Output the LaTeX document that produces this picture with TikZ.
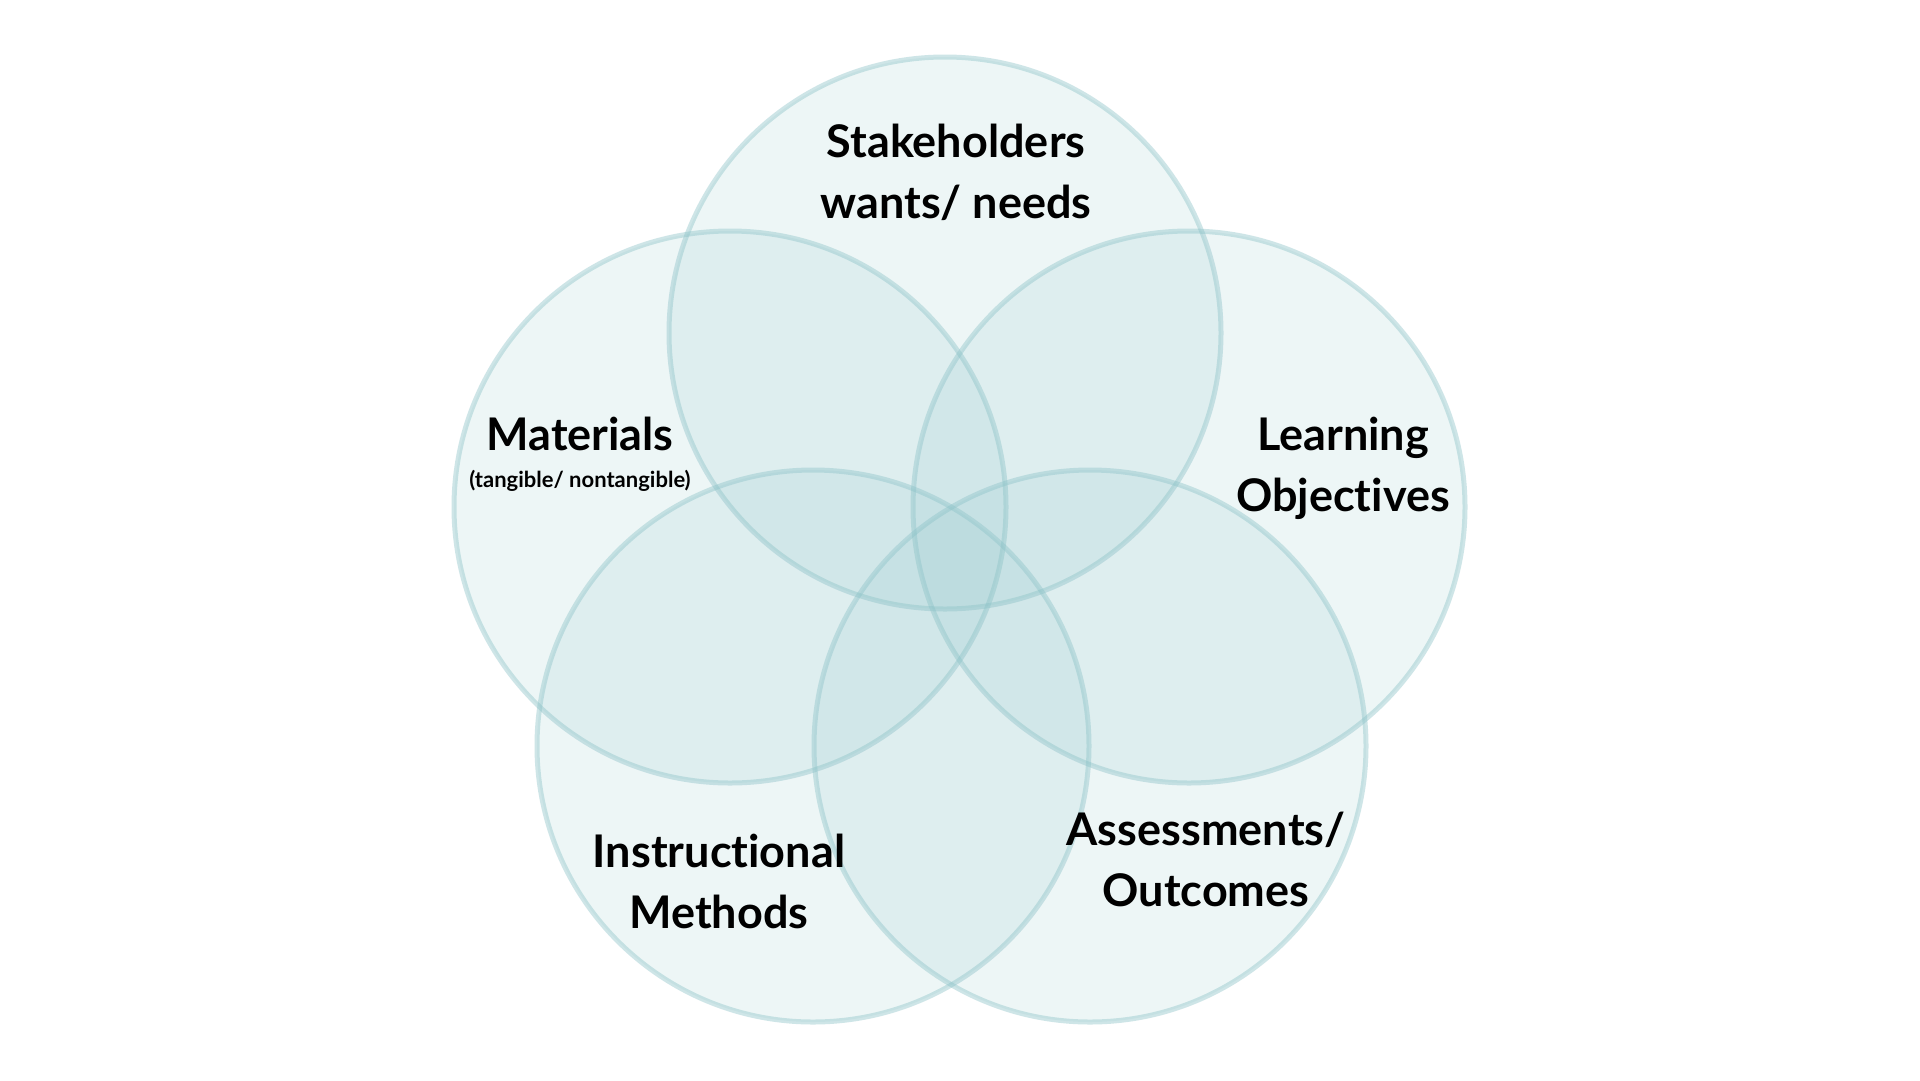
\documentclass[tikz,border=0pt]{standalone}
\usepackage{fontspec}
\setmainfont{Lato}[Ligatures=NoCommon]
\begin{document}
\begin{tikzpicture}[x=1pt,y=-1pt]
\definecolor{venncol}{RGB}{140,195,200}
\tikzset{
  venn/.style={circle, minimum size=552pt, inner sep=0pt, fill=venncol, fill opacity=0.15,
    draw=venncol, draw opacity=0.42, line width=5pt},
  lbl/.style={align=center, anchor=base, font=\bfseries\fontsize{45}{61}\selectfont, text=black},
  sublbl/.style={align=center, anchor=base, font=\bfseries\fontsize{22}{26}\selectfont, text=black}
}
\useasboundingbox[fill=white] (0,0) rectangle (1920,1080);
\node[venn] (stake) at (945,333) {};
\node[venn] (mat) at (730,507) {};
\node[venn] (learn) at (1189,507) {};
\node[venn] (instr) at (813,746) {};
\node[venn] (assess) at (1090,746) {};
\node[lbl] (tstake) at (956,218) {Stakeholders\\wants/ needs};
\node[lbl] (tmat) at (580,450) {Materials};
\node[sublbl] (tmatsub) at (580,487) {(tangible/ nontangible)};
\node[lbl] (tlearn) at (1343,511) {Learning\\Objectives};
\node[lbl] (tinstr) at (719,928) {Instructional\\Methods};
\node[lbl] (tassess) at (1206,906) {Assessments/\\Outcomes};
\end{tikzpicture}
\end{document}
